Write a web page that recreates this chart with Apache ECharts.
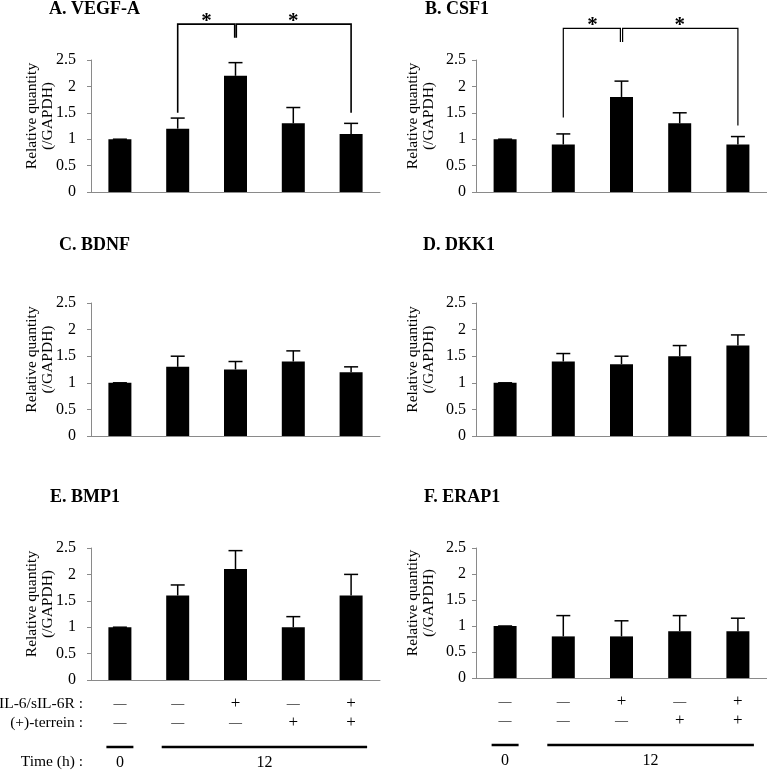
<!DOCTYPE html>
<html><head><meta charset="utf-8">
<script src="https://cdn.jsdelivr.net/npm/echarts@6/dist/echarts.min.js"></script>
<style>html,body{margin:0;padding:0;background:#fff}#c{width:767px;height:771px}</style>
</head><body><div id="c"></div>
<script>
// ---- data ----
const categories = ['0h', '12h', '12h IL-6', '12h terrein', '12h IL-6+terrein'];
const titles = ['A. VEGF-A', 'B. CSF1', 'C. BDNF', 'D. DKK1', 'E. BMP1', 'F. ERAP1'];
const vegfMean = [1.0, 1.2, 2.2, 1.3, 1.1];
const vegfErrTop = [1.0, 1.4, 2.45, 1.6, 1.3];
const csf1Mean = [1.0, 0.9, 1.8, 1.3, 0.9];
const csf1ErrTop = [1.0, 1.1, 2.1, 1.5, 1.05];
const bdnfMean = [1.0, 1.3, 1.25, 1.4, 1.2];
const bdnfErrTop = [1.0, 1.5, 1.4, 1.6, 1.3];
const dkk1Mean = [1.0, 1.4, 1.35, 1.5, 1.7];
const dkk1ErrTop = [1.0, 1.55, 1.5, 1.7, 1.9];
const bmp1Mean = [1.0, 1.6, 2.1, 1.0, 1.6];
const bmp1ErrTop = [1.0, 1.8, 2.45, 1.2, 2.0];
const erap1Mean = [1.0, 0.8, 0.8, 0.9, 0.9];
const erap1ErrTop = [1.0, 1.2, 1.1, 1.2, 1.15];
const yMin = 0, yMax = 2.5, yInterval = 0.5;
const yAxisName = 'Relative quantity\n(/GAPDH)';
const il6Row = ['−', '−', '+', '−', '+'];
const terreinRow = ['−', '−', '−', '+', '+'];
const rowHeaders = ['IL-6/sIL-6R :', '(+)-terrein :', 'Time (h) :'];
const timeGroups = [[0, 0, '0'], [1, 4, '12']];
// significance brackets: [fromCat, toCat, bracketY, leftEndY, rightEndY]
const sigA = [[1, 2, 3.18, 1.5, 2.92], [2, 4, 3.18, 2.92, 1.5]];
const sigB = [[1, 2, 3.10, 1.41, 2.84], [2, 4, 3.10, 2.84, 1.26]];

const means = [vegfMean, csf1Mean, bdnfMean, dkk1Mean, bmp1Mean, erap1Mean];
const errTops = [vegfErrTop, csf1ErrTop, bdnfErrTop, dkk1ErrTop, bmp1ErrTop, erap1ErrTop];

// ---- layout / style ----
const FONT = 'Liberation Serif';
const grids = [
  {left: 91, top: 60, width: 289, height: 132},
  {left: 476, top: 60, width: 291, height: 132},
  {left: 91, top: 303, width: 289, height: 133},
  {left: 476, top: 303, width: 291, height: 133},
  {left: 91, top: 548, width: 289, height: 132},
  {left: 476, top: 548, width: 291, height: 130}
];
const titlePos = [[49, 0], [425, 0], [59, 236], [423, 236], [50, 488], [424, 488]];
const labelMargins = [15, 10, 15, 10, 15, 10];
const nameGaps = [35, 39, 35, 39, 35, 39];
const axisGray = '#8a8a8a';

function renderErr(params, api) {
  const x = api.value(0);
  const base = api.coord([x, api.value(1)]);
  const top = api.coord([x, api.value(2)]);
  const half = 7;
  const st = {stroke: '#000', lineWidth: 1.5};
  return {type: 'group', children: [
    {type: 'line', shape: {x1: base[0], y1: base[1], x2: top[0], y2: top[1]}, style: st},
    {type: 'line', shape: {x1: top[0] - half, y1: top[1], x2: top[0] + half, y2: top[1]}, style: st}
  ]};
}

function makeBracket(gap, lw) {
  return function (params, api) {
    const f = api.value(0), t = api.value(1);
    let xf = api.coord([f, 0])[0], xt = api.coord([t, 0])[0];
    if (params.dataIndex === 0) xt -= gap; else xf += gap;
    const yb = api.coord([0, api.value(2)])[1];
    const yl = api.coord([0, api.value(3)])[1];
    const yr = api.coord([0, api.value(4)])[1];
    const cx = (api.coord([f, 0])[0] + api.coord([t, 0])[0]) / 2;
    return {type: 'group', children: [
      {type: 'polyline', shape: {points: [[xf, yl], [xf, yb], [xt, yb], [xt, yr]]},
       style: {stroke: '#000', lineWidth: lw, fill: null}},
      {type: 'text', style: {text: '*', x: cx, y: yb - 3, align: 'center', verticalAlign: 'middle',
       fontSize: 21, fontWeight: 'bold', fontFamily: FONT, fill: '#000'}}
    ]};
  };
}

function renderTime(params, api) {
  const f = api.value(0), t = api.value(1);
  const pad = f === t ? 13.5 : 16;
  const x1 = api.coord([f, 0])[0] - pad, x2 = api.coord([t, 0])[0] + pad;
  const y0 = api.coord([0, 0])[1];
  return {type: 'group', children: [
    {type: 'line', shape: {x1: x1, y1: y0 + 67, x2: x2, y2: y0 + 67}, style: {stroke: '#000', lineWidth: 2.5}},
    {type: 'text', style: {text: timeGroups[params.dataIndex][2], x: (x1 + x2) / 2, y: y0 + 82.5,
     align: 'center', verticalAlign: 'middle', fontSize: 16, fontFamily: FONT, fill: '#000'}}
  ]};
}

const xAxes = [], yAxes = [], series = [], titleArr = [];
for (let i = 0; i < 6; i++) {
  const bottom = i >= 4;
  xAxes.push({
    type: 'category', gridIndex: i, data: categories,
    axisLine: {show: true, lineStyle: {color: axisGray, width: 1}},
    axisTick: {show: false},
    axisLabel: bottom ? {
      show: true, margin: 14.5, interval: 0,
      formatter: function (v, idx) {
        const a = il6Row[idx] === '−' ? '{m|—}' : '{p|+}';
        const b = terreinRow[idx] === '−' ? '{m|—}' : '{p|+}';
        return a + '\n' + b;
      },
      rich: {
        m: {fontSize: 13, lineHeight: 19, fontFamily: FONT, color: '#000'},
        p: {fontSize: 17, lineHeight: 19, fontFamily: FONT, color: '#000'}
      }
    } : {show: false}
  });
  yAxes.push({
    type: 'value', gridIndex: i, min: yMin, max: yMax, interval: yInterval,
    name: yAxisName, nameLocation: 'middle', nameGap: nameGaps[i], nameRotate: 90,
    nameMoveOverlap: false,
    nameTextStyle: {fontFamily: FONT, fontSize: 15.5, lineHeight: 16, color: '#000', padding: [0, 0, 0, 20]},
    axisLine: {show: true, lineStyle: {color: axisGray, width: 1}},
    axisTick: {show: true, length: 4, lineStyle: {color: axisGray}},
    splitLine: {show: false},
    axisLabel: {margin: labelMargins[i], fontFamily: FONT, fontSize: 16, color: '#000'}
  });
  series.push({
    type: 'bar', xAxisIndex: i, yAxisIndex: i, data: means[i], barWidth: 23,
    itemStyle: {color: '#000'}, silent: true
  });
  series.push({
    type: 'custom', xAxisIndex: i, yAxisIndex: i, z: 5, silent: true,
    data: means[i].map((m, k) => [k, m, errTops[i][k]]),
    renderItem: renderErr
  });
  titleArr.push({
    text: titles[i], left: titlePos[i][0], top: titlePos[i][1], padding: 0,
    textStyle: {fontFamily: FONT, fontWeight: 'bold', fontSize: 18, color: '#000'}
  });
}
series.push({type: 'custom', xAxisIndex: 0, yAxisIndex: 0, z: 6, silent: true, data: sigA, renderItem: makeBracket(0.8, 1.6)});
series.push({type: 'custom', xAxisIndex: 1, yAxisIndex: 1, z: 6, silent: true, data: sigB, renderItem: makeBracket(1.1, 1.2)});
series.push({type: 'custom', xAxisIndex: 4, yAxisIndex: 4, z: 6, silent: true, data: timeGroups.map(g => [g[0], g[1]]), renderItem: renderTime});
series.push({type: 'custom', xAxisIndex: 5, yAxisIndex: 5, z: 6, silent: true, data: timeGroups.map(g => [g[0], g[1]]), renderItem: renderTime});

const headerY = [704, 723, 762];
const graphic = rowHeaders.map((t, k) => ({
  type: 'text', x: 83, y: headerY[k], silent: true,
  style: {text: t, align: 'right', verticalAlign: 'middle', fontSize: 15.5, fontFamily: FONT, fill: '#000'}
}));

const chart = echarts.init(document.getElementById('c'));
chart.setOption({
  animation: false,
  backgroundColor: '#fff',
  title: titleArr,
  grid: grids,
  xAxis: xAxes,
  yAxis: yAxes,
  series: series,
  graphic: graphic
});
</script>
</body></html>
